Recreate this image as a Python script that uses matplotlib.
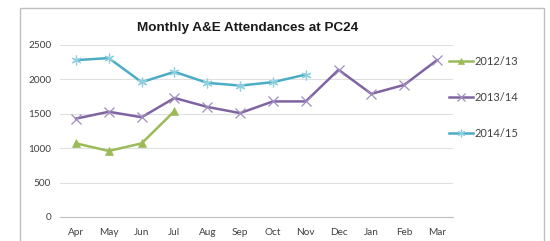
import matplotlib
matplotlib.use("Agg")
import matplotlib.pyplot as plt
from matplotlib.patches import Rectangle

months = ["Apr", "May", "Jun", "Jul", "Aug", "Sep", "Oct", "Nov", "Dec", "Jan", "Feb", "Mar"]
series_names = ["2012/13", "2013/14", "2014/15"]
vals_1213 = [1070, 960, 1070, 1540]
vals_1314 = [1430, 1530, 1450, 1730, 1600, 1510, 1680, 1680, 2140, 1790, 1920, 2280]
vals_1415 = [2280, 2310, 1960, 2110, 1950, 1910, 1960, 2070]

colors = ["#9BBB59", "#8064A2", "#4BACC6"]
marker_cols = ["#9BBB59", "#A08CC0", "#8FD0E0"]
markers = ["^", "x", (6, 2, 0)]

plt.rcParams['font.family'] = ['Lato', 'DejaVu Sans']

fig = plt.figure(figsize=(5.5, 2.41), dpi=100)
fig.patches.append(Rectangle((20 / 550, -0.1), 524 / 550, 1.1 - 8 / 241,
                             transform=fig.transFigure, fill=False,
                             edgecolor="#BFBFBF", linewidth=1.0))

ax = fig.add_axes([59.6 / 550, 1 - 217 / 241, 393.8 / 550, 172 / 241])

for name, vals, c, mc, m in zip(series_names, [vals_1213, vals_1314, vals_1415],
                                colors, marker_cols, markers):
    if m == "^":
        ax.plot(range(len(vals)), vals, color=c, lw=1.8, marker=m, markersize=6,
                markeredgewidth=0.5, label=name)
    else:
        ax.plot(range(len(vals)), vals, color=c, lw=1.8, marker=m, markersize=7,
                markeredgecolor=mc, markeredgewidth=0.9, label=name)

ax.set_xlim(-0.5, len(months) - 0.5)
ax.set_ylim(0, 2500)
ax.set_xticks(range(len(months)))
ax.set_xticklabels(months)
ax.set_yticks(range(0, 2501, 500))
ax.tick_params(length=0, labelsize=7.2, colors="#404040", pad=8)
ax.tick_params(axis="y", pad=6)
for s in ["top", "right", "left"]:
    ax.spines[s].set_visible(False)
ax.spines["bottom"].set_color("#BFBFBF")
ax.grid(axis="y", color="#E0E0E0", lw=0.8)
ax.set_axisbelow(True)

fig.text(248 / 550, 1 - 28 / 241, "Monthly A&E Attendances at PC24", ha="center", va="center",
         fontsize=9.7, fontweight="bold", family=["Liberation Sans"], color="#1a1a1a")

leg = fig.legend(loc="upper left", bbox_to_anchor=(439 / 550, 1 - 46 / 241), frameon=False,
                 fontsize=8, handlelength=2.2, labelspacing=2.25, handletextpad=0.1,
                 markerscale=0.8)
for t in leg.get_texts():
    t.set_color("#404040")

fig.savefig("out.png", dpi=100)
